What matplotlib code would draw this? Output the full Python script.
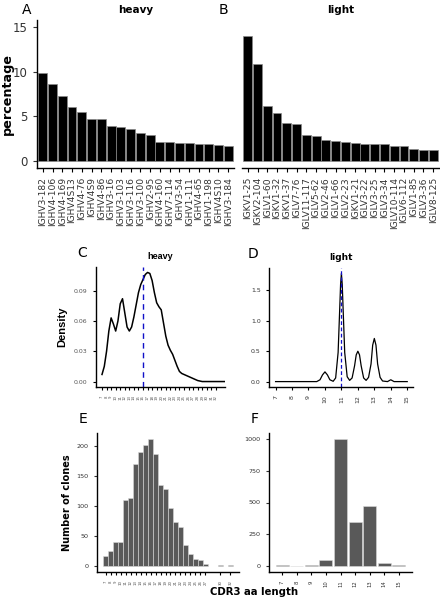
import numpy as np
import matplotlib
matplotlib.use("Agg")
import matplotlib.pyplot as plt

# --- data ---
heavy_genes = ["IGHV3-182", "IGHV4-106", "IGHV4-169", "IGHV4S13", "IGHV4-76",
               "IGHV4S9", "IGHV4-86", "IGHV3-16", "IGHV3-103", "IGHV3-116",
               "IGHV3-100", "IGHV2-95", "IGHV4-160", "IGHV7-114", "IGHV3-54",
               "IGHV1-111", "IGHV4-65", "IGHV1-198", "IGHV4S10", "IGHV3-184"]
heavy_pct = [9.85, 8.57, 7.3, 6.0, 5.44, 4.68, 4.68, 3.95, 3.83, 3.64,
             3.16, 2.98, 2.2, 2.12, 2.05, 2.05, 1.97, 1.93, 1.86, 1.71]

light_genes = ["IGKV1-25", "IGKV2-104", "IGLV1-60", "IGKV1-32", "IGKV1-37",
               "IGLV7-76", "IGLV11-117", "IGLV5-62", "IGLV2-46", "IGLV1-66",
               "IGLV2-23", "IGKV1-21", "IGLV3-22", "IGLV3-25", "IGLV3-34",
               "IGLV10-114", "IGLV6-112", "IGLV1-85", "IGLV3-36", "IGLV8-125"]
light_pct = [14.0, 10.9, 6.18, 5.33, 4.28, 4.2, 2.98, 2.83, 2.42, 2.31,
             2.12, 2.09, 1.94, 1.94, 1.94, 1.71, 1.68, 1.34, 1.23, 1.23]

# density of heavy CDR3 length (panel C)
heavy_dens_x = [7, 7.5, 8, 8.5, 9, 9.5, 10, 10.5, 11, 11.5, 12, 12.5, 13, 13.5,
                14, 14.5, 15, 15.5, 16, 16.5, 17, 17.5, 18, 18.5, 19, 19.5, 20,
                20.5, 21, 21.5, 22, 22.5, 23, 23.5, 24, 24.5, 25, 26, 27, 28,
                29, 30, 31, 32, 33, 34]
heavy_dens_y = [0.007, 0.015, 0.03, 0.05, 0.063, 0.057, 0.050, 0.060, 0.077,
                0.082, 0.068, 0.054, 0.050, 0.054, 0.064, 0.076, 0.088, 0.096,
                0.101, 0.106, 0.108, 0.107, 0.100, 0.088, 0.078, 0.074, 0.071,
                0.058, 0.045, 0.036, 0.031, 0.027, 0.021, 0.015, 0.010, 0.008,
                0.007, 0.005, 0.003, 0.001, 0.0, 0.0, 0.0, 0.0, 0.0, 0.0]
heavy_median = 16

# density of light CDR3 length (panel D)
light_dens_x = [7, 9.5, 9.7, 9.85, 10.0, 10.15, 10.3, 10.5, 10.65, 10.8, 10.9,
                10.95, 11.0, 11.05, 11.1, 11.2, 11.35, 11.5, 11.65, 11.8, 11.9,
                12.0, 12.1, 12.2, 12.35, 12.5, 12.65, 12.8, 12.9, 13.0, 13.1,
                13.2, 13.35, 13.5, 13.8, 14.0, 14.2, 14.5, 15]
light_dens_y = [0.0, 0.0, 0.03, 0.11, 0.16, 0.11, 0.03, 0.005, 0.06, 0.48,
                1.22, 1.6, 1.78, 1.6, 1.22, 0.48, 0.08, 0.02, 0.06, 0.26, 0.44,
                0.50, 0.44, 0.26, 0.06, 0.02, 0.07, 0.29, 0.60, 0.71, 0.60,
                0.29, 0.07, 0.01, 0.0, 0.03, 0.0, 0.0, 0.0]
light_median = 11

# clone counts per CDR3 length
heavy_len = [7, 8, 9, 10, 11, 12, 13, 14, 15, 16, 17, 18, 19, 20, 21, 22,
             23, 24, 25, 26, 27, 30, 32]
heavy_clones = [17, 25, 39, 39, 111, 113, 171, 191, 202, 212, 187, 135, 129,
                97, 73, 65, 34, 20, 12, 9, 2, 1, 1]
light_len = [7, 8, 9, 10, 11, 12, 13, 14, 15]
light_clones = [2, 0.5, 5, 47, 1000, 348, 472, 22, 2]

W, H = 440, 600
fig = plt.figure(figsize=(W / 100, H / 100), dpi=100)


def box(l, t, r, b):
    """pixel box -> figure fraction"""
    return [l / W, 1 - b / H, (r - l) / W, (b - t) / H]


def classic(ax, left=True):
    for s in ["top", "right"]:
        ax.spines[s].set_visible(False)
    ax.spines["bottom"].set_linewidth(1.0)
    ax.spines["left"].set_linewidth(1.0)
    if not left:
        ax.spines["left"].set_visible(False)
        ax.tick_params(axis="y", left=False, labelleft=False)


# ---- A / B: top gene usage ----
axA = fig.add_axes(box(37, 20, 234, 168))
axB = fig.add_axes(box(242, 20, 439, 168))
for ax, genes, pct, title in [(axA, heavy_genes, heavy_pct, "heavy"),
                              (axB, light_genes, light_pct, "light")]:
    x = np.arange(len(genes))
    ax.bar(x, pct, width=0.9, color="black", edgecolor="#8a8a8a", linewidth=0.5)
    ax.set_xlim(-0.6, len(genes) - 0.4)
    ax.set_ylim(-0.75, 15.75)
    ax.set_xticks(x)
    ax.set_xticklabels(genes, rotation=90, fontsize=6.6, color="#333333")
    ax.set_yticks([0, 5, 10, 15])
    ax.tick_params(axis="y", labelsize=8.5, length=3, colors="#333333")
    ax.tick_params(axis="x", length=3)
    ax.set_title(title, fontsize=7.5, fontweight="bold", pad=5)
axA.set_ylabel("percentage", fontsize=9.2, fontweight="bold")
axA.yaxis.set_label_coords(-0.118, 0.5)
classic(axA)
classic(axB, left=False)
fig.text(27 / W, 1 - 10 / H, "A", fontsize=10, va="center", ha="center")
fig.text(223 / W, 1 - 10 / H, "B", fontsize=10, va="center", ha="center")

# ---- C / D: CDR3 length density ----
axC = fig.add_axes(box(96, 267, 225, 387))
axC.plot(heavy_dens_x, heavy_dens_y, color="black", lw=1.1)
axC.axvline(heavy_median, color="#1010c8", ls=(0, (4, 3)), lw=1.0)
axC.set_xlim(5.68, 34)
axC.set_ylim(-0.0054, 0.1134)
axC.set_xticks(range(7, 33))
axC.set_xticklabels([str(v) for v in range(7, 33)], rotation=90, fontsize=2.8,
                    color="#555555")
axC.set_yticks([0, 0.03, 0.06, 0.09])
axC.set_yticklabels(["0.00", "0.03", "0.06", "0.09"], fontsize=4.5,
                    color="#555555")
axC.tick_params(length=2.5)
axC.set_ylabel("Density", fontsize=8, fontweight="bold",
               family="Liberation Sans")
axC.yaxis.set_label_coords(-0.225, 0.5)
axC.set_title("heavy", fontsize=6.5, fontweight="bold", pad=6,
              family="Liberation Sans")
classic(axC)

axD = fig.add_axes(box(269, 268, 413, 387))
axD.plot(light_dens_x, light_dens_y, color="black", lw=0.9)
axD.axvline(light_median, color="#1010c8", ls=(0, (3, 2)), lw=0.9)
axD.set_xlim(6.6, 15.35)
axD.set_ylim(-0.089, 1.87)
axD.set_xticks(range(7, 16))
axD.set_xticklabels([str(v) for v in range(7, 16)], rotation=90, fontsize=4.5,
                    color="#333333")
axD.set_yticks([0, 0.5, 1.0, 1.5])
axD.set_yticklabels(["0.0", "0.5", "1.0", "1.5"], fontsize=4.5, color="#333333")
axD.tick_params(length=2.5)
axD.set_title("light", fontsize=6.5, fontweight="bold", pad=6)
classic(axD)
fig.text(82 / W, 1 - 253 / H, "C", fontsize=10, va="center", ha="center")
fig.text(253 / W, 1 - 254 / H, "D", fontsize=10, va="center", ha="center")

# ---- E / F: clone counts ----
axE = fig.add_axes(box(97, 433, 239, 572))
axE.bar(heavy_len, heavy_clones, width=0.9, color="#595959",
        edgecolor="#d9d9d9", linewidth=0.4)
axE.set_xlim(5.25, 33.75)
axE.set_ylim(-10.6, 222.6)
axE.set_xticks(heavy_len)
axE.set_xticklabels([str(v) for v in heavy_len], rotation=90, fontsize=2.8,
                    color="#555555")
axE.set_yticks([0, 50, 100, 150, 200])
axE.tick_params(axis="y", labelsize=4.6, length=2.5, colors="#333333")
axE.tick_params(axis="x", length=2.5)
axE.set_ylabel("Number of clones", fontsize=7, fontweight="bold")
axE.yaxis.set_label_coords(-0.176, 0.5)
classic(axE)

axF = fig.add_axes(box(269, 433, 412, 572))
axF.bar(light_len, light_clones, width=0.9, color="#595959",
        edgecolor="#d9d9d9", linewidth=0.4)
axF.set_xlim(6.1, 15.9)
axF.set_ylim(-50, 1050)
axF.set_xticks(light_len)
axF.set_xticklabels([str(v) for v in light_len], rotation=90, fontsize=3.8,
                    color="#333333")
axF.set_yticks([0, 250, 500, 750, 1000])
axF.tick_params(axis="y", labelsize=4.6, length=2.5, colors="#333333")
axF.tick_params(axis="x", length=2.5)
classic(axF)
fig.text(83 / W, 1 - 419 / H, "E", fontsize=10, va="center", ha="center")
fig.text(255 / W, 1 - 419 / H, "F", fontsize=10, va="center", ha="center")
fig.text(254 / W, 1 - 592 / H, "CDR3 aa length", fontsize=7.3,
         fontweight="bold", ha="center", va="center")

fig.savefig("out.png", dpi=100)
